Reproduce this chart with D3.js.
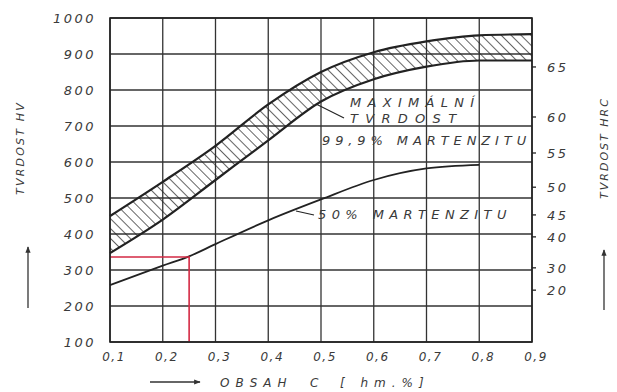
<!DOCTYPE html>
<html>
<head>
<meta charset="utf-8">
<script src="https://cdn.jsdelivr.net/npm/d3@7"></script>
<style>
  body { margin: 0; background: #fff; }
  text { font-family: "DejaVu Sans", sans-serif; font-style: italic; fill: #3a3a3a; }
</style>
</head>
<body>
<div id="chart"></div>
<script>
// obsah uhliku [hm.%]
const carbon = [0.1, 0.2, 0.3, 0.4, 0.5, 0.6, 0.7, 0.8, 0.9];
// maximalni tvrdost - horni a dolni hranice pasma (HV)
const maxUpper = [450, 545, 645, 760, 850, 905, 935, 952, 955];
const maxLower = [347, 440, 550, 660, 768, 830, 865, 882, 882];
// 50% martenzitu (HV), konci u 0,8
const carbon50 = [0.1, 0.2, 0.25, 0.3, 0.4, 0.5, 0.6, 0.7, 0.8];
const mart50 = [258, 312, 338, 372, 438, 496, 550, 582, 592];
// osy
const hvTicks = [100, 200, 300, 400, 500, 600, 700, 800, 900, 1000];
const xTicks = [0.1, 0.2, 0.3, 0.4, 0.5, 0.6, 0.7, 0.8, 0.9];
const hrcTicks = [65, 60, 55, 50, 45, 40, 30, 20];
const hrcAsHV = [864, 725, 625, 530, 453, 392, 306, 244];
// cervena odecitaci cara
const readC = 0.25, readHV = 336;

var width = 617, height = 392;
var svg = d3.select("#chart").append("svg").attr("width", width).attr("height", height);

var x = d3.scaleLinear().domain([0.1, 0.9]).range([110, 532]);
var y = d3.scaleLinear().domain([100, 1000]).range([342, 18]);
var ink = "#222";

// srafovani
var defs = svg.append("defs");
defs.append("pattern")
  .attr("id", "hatch")
  .attr("patternUnits", "userSpaceOnUse")
  .attr("width", 7).attr("height", 7)
  .attr("patternTransform", "rotate(-45)")
  .append("line")
  .attr("x1", 0).attr("y1", 0).attr("x2", 0).attr("y2", 7)
  .attr("stroke", ink).attr("stroke-width", 1.4);

// mrizka
svg.append("g").selectAll("line").data(hvTicks).enter().append("line")
  .attr("x1", x(0.1)).attr("x2", x(0.9))
  .attr("y1", d => y(d)).attr("y2", d => y(d))
  .attr("stroke", "#333").attr("stroke-width", 1.3);
svg.append("g").selectAll("line").data(xTicks).enter().append("line")
  .attr("x1", d => x(d)).attr("x2", d => x(d))
  .attr("y1", y(100)).attr("y2", y(1000))
  .attr("stroke", "#333").attr("stroke-width", 1.3);

// pasmo max. tvrdosti
var band = carbon.map((c, i) => ({ c: c, lo: maxLower[i], hi: maxUpper[i] }));
var area = d3.area().x(d => x(d.c)).y0(d => y(d.lo)).y1(d => y(d.hi)).curve(d3.curveMonotoneX);
svg.append("path").datum(band).attr("d", area).attr("fill", "url(#hatch)");
var lineHi = d3.line().x(d => x(d.c)).y(d => y(d.hi)).curve(d3.curveMonotoneX);
var lineLo = d3.line().x(d => x(d.c)).y(d => y(d.lo)).curve(d3.curveMonotoneX);
svg.append("path").datum(band).attr("d", lineHi).attr("fill", "none").attr("stroke", ink).attr("stroke-width", 2.2);
svg.append("path").datum(band).attr("d", lineLo).attr("fill", "none").attr("stroke", ink).attr("stroke-width", 2.2);

// 50% martenzitu
var m50 = carbon50.map((c, i) => ({ c: c, v: mart50[i] }));
svg.append("path").datum(m50)
  .attr("d", d3.line().x(d => x(d.c)).y(d => y(d.v)).curve(d3.curveMonotoneX))
  .attr("fill", "none").attr("stroke", ink).attr("stroke-width", 1.8);

// cervene cary
svg.append("path")
  .attr("d", "M" + x(0.1) + "," + y(readHV) + "H" + x(readC) + "V" + y(100))
  .attr("fill", "none").attr("stroke", "#d42a44").attr("stroke-width", 1.6);

// ram
svg.append("rect")
  .attr("x", x(0.1)).attr("y", y(1000))
  .attr("width", x(0.9) - x(0.1)).attr("height", y(100) - y(1000))
  .attr("fill", "none").attr("stroke", ink).attr("stroke-width", 1.6);

// osa HV
svg.append("g").selectAll("text").data(hvTicks).enter().append("text")
  .attr("x", 96).attr("y", d => y(d) + 5)
  .attr("text-anchor", "end")
  .attr("font-size", "13px").attr("letter-spacing", "2.5px")
  .text(d => d);

// osa C
svg.append("g").selectAll("text").data(xTicks).enter().append("text")
  .attr("x", d => x(d) + 4).attr("y", 361)
  .attr("text-anchor", "middle")
  .attr("font-size", "12px").attr("letter-spacing", "1.5px")
  .text(d => d3.format(".1f")(d).replace(".", ","));

// osa HRC
var hrc = hrcTicks.map((h, i) => ({ h: h, hv: hrcAsHV[i] }));
svg.append("g").selectAll("line").data(hrc).enter().append("line")
  .attr("x1", x(0.9)).attr("x2", x(0.9) + 4)
  .attr("y1", d => y(d.hv)).attr("y2", d => y(d.hv))
  .attr("stroke", ink).attr("stroke-width", 1.3);
svg.append("g").selectAll("text").data(hrc).enter().append("text")
  .attr("x", 547).attr("y", d => y(d.hv) + 5)
  .attr("font-size", "13px").attr("letter-spacing", "2.5px")
  .text(d => d.h);

// popisky v grafu
var lbl = svg.append("g").attr("font-size", "13px");
lbl.append("text").attr("x", 350).attr("y", 107).attr("letter-spacing", "6.3px").text("MAXIMÁLNÍ");
lbl.append("text").attr("x", 350).attr("y", 123).attr("letter-spacing", "7.3px").text("TVRDOST");
lbl.append("text").attr("x", 322).attr("y", 145).attr("letter-spacing", "4.9px").text("99,9% MARTENZITU");
lbl.append("text").attr("x", 318).attr("y", 219).attr("letter-spacing", "5.4px").text("50% MARTENZITU");
svg.append("line").attr("x1", 344).attr("y1", 118).attr("x2", 316).attr("y2", 104)
  .attr("stroke", ink).attr("stroke-width", 1.2);
svg.append("line").attr("x1", 314).attr("y1", 215).attr("x2", 296).attr("y2", 211)
  .attr("stroke", ink).attr("stroke-width", 1.2);

// nazvy os
svg.append("text")
  .attr("transform", "translate(24,148) rotate(-90)")
  .attr("text-anchor", "middle").attr("font-size", "11px").attr("letter-spacing", "2.2px")
  .text("TVRDOST HV");
svg.append("text")
  .attr("transform", "translate(608,148) rotate(-90)")
  .attr("text-anchor", "middle").attr("font-size", "11px").attr("letter-spacing", "2px")
  .text("TVRDOST HRC");
var xt = svg.append("g").attr("font-size", "12px");
xt.append("text").attr("x", 220).attr("y", 387).attr("letter-spacing", "6px").text("OBSAH");
xt.append("text").attr("x", 310).attr("y", 387).text("C");
xt.append("text").attr("x", 340).attr("y", 387).attr("letter-spacing", "6px")
  .attr("xml:space", "preserve").text("[ hm.%]");

// sipky
defs.append("marker")
  .attr("id", "arrow").attr("viewBox", "0 0 10 10")
  .attr("refX", 9).attr("refY", 5)
  .attr("markerWidth", 5).attr("markerHeight", 5)
  .attr("orient", "auto")
  .append("path").attr("d", "M0,1 L10,5 L0,9 Z").attr("fill", "#333");
[[28, 308, 28, 247], [604, 310, 604, 250], [150, 382, 200, 382]].forEach(function (a) {
  svg.append("line")
    .attr("x1", a[0]).attr("y1", a[1]).attr("x2", a[2]).attr("y2", a[3])
    .attr("stroke", "#333").attr("stroke-width", 1.3)
    .attr("marker-end", "url(#arrow)");
});
</script>
</body>
</html>
